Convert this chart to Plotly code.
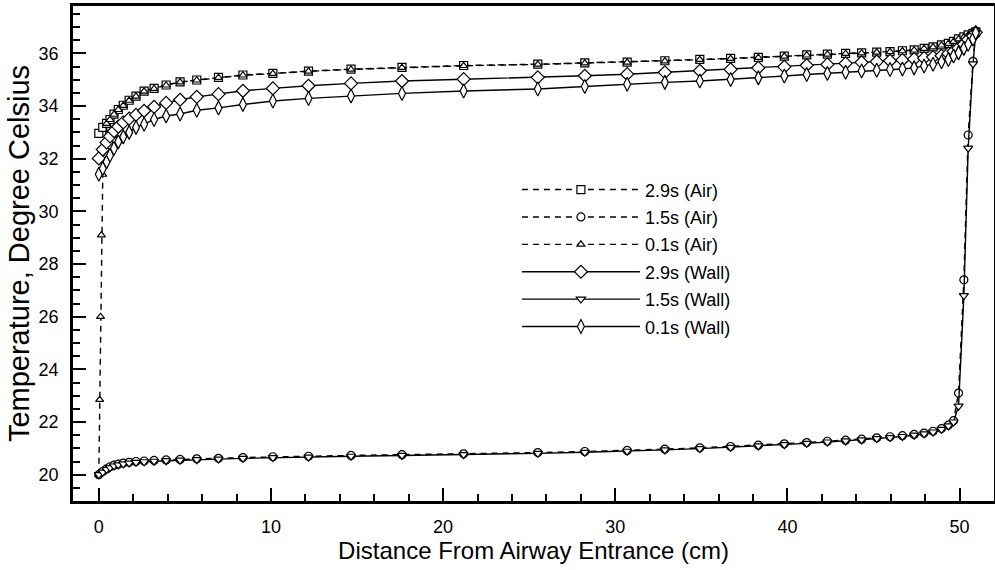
import plotly.graph_objects as go

# Shared axial grid (cm from airway entrance)
x_grid = [0.0, 0.23, 0.45, 0.65, 0.88, 1.13, 1.42, 1.76, 2.16, 2.63, 3.21, 3.91, 4.72, 5.69, 6.95, 8.37,
          10.11, 12.18, 14.65, 17.61, 21.19, 25.5, 28.23, 30.69, 32.88, 34.91, 36.7, 38.31, 39.82, 41.12,
          42.32, 43.38, 44.31,
          45.19, 45.96, 46.68, 47.36, 47.94, 48.46, 48.95,
          49.35, 49.65, 49.94, 50.25, 50.5, 50.78, 50.94]

air_29 = [32.96, 33.19, 33.34, 33.49, 33.69, 33.87, 34.03, 34.22, 34.38, 34.57, 34.67, 34.80, 34.92, 34.99, 35.09, 35.18,
          35.24, 35.33, 35.40, 35.47, 35.54, 35.59, 35.64, 35.67, 35.72, 35.77, 35.81, 35.85, 35.90, 35.94,
          35.97, 36.00, 36.02,
          36.05, 36.07, 36.10, 36.13, 36.19, 36.25, 36.32,
          36.38, 36.46, 36.55, 36.63, 36.70, 36.76, 36.82]

air_15 = [20.0, 20.12, 20.22, 20.3, 20.36, 20.4, 20.44, 20.47, 20.5, 20.52, 20.54, 20.56, 20.58, 20.6, 20.62, 20.65,
          20.68, 20.7, 20.73, 20.76, 20.79, 20.84, 20.88, 20.92, 20.97, 21.02, 21.07, 21.12, 21.17, 21.22,
          21.27, 21.31, 21.35,
          21.4, 21.44, 21.48, 21.53, 21.58, 21.65, 21.75,
          21.88, 22.05, 23.1, 27.4, 32.9, 35.7, 36.8]

x_air_01 = [0.0, 0.05, 0.1, 0.15, 0.23, 0.45, 0.65, 0.88, 1.13, 1.42, 1.76, 2.16, 2.63, 3.21, 3.91, 4.72, 5.69, 6.95, 8.37,
            10.11, 12.18, 14.65, 17.61, 21.19, 25.5, 28.23, 30.69, 32.88, 34.91, 36.7, 38.31, 39.82, 41.12,
            42.32, 43.38, 44.31,
            45.19, 45.96, 46.68, 47.36, 47.94, 48.46, 48.95,
            49.35, 49.65, 49.94, 50.25, 50.5, 50.78, 50.94]
air_01 = [20.0, 22.85, 26.0, 29.1, 31.4, 33.33, 33.48, 33.68, 33.86, 34.02, 34.21, 34.37, 34.56, 34.66, 34.79, 34.91, 34.98, 35.08, 35.17,
          35.23, 35.32, 35.39, 35.46, 35.53, 35.58, 35.63, 35.66, 35.71, 35.76, 35.80, 35.84, 35.89, 35.93,
          35.96, 35.99, 36.01,
          36.04, 36.06, 36.09, 36.12, 36.18, 36.24, 36.31,
          36.37, 36.45, 36.54, 36.62, 36.69, 36.75, 36.81]

wall_29 = [32.01, 32.35, 32.62, 32.85, 33.05, 33.22, 33.38, 33.52, 33.67, 33.82, 33.97, 34.12, 34.24, 34.35, 34.45, 34.58,
           34.67, 34.77, 34.86, 34.95, 35.02, 35.09, 35.15, 35.21, 35.28, 35.34, 35.39, 35.45, 35.49, 35.55,
           35.58, 35.62, 35.66,
           35.69, 35.72, 35.75, 35.78, 35.82, 35.86, 35.91,
           35.99, 36.08, 36.20, 36.35, 36.52, 36.66, 36.80]

wall_15 = [20.0, 20.1, 20.2, 20.27, 20.33, 20.37, 20.41, 20.44, 20.47, 20.49, 20.51, 20.53, 20.55, 20.57, 20.59, 20.62,
           20.65, 20.67, 20.7, 20.73, 20.76, 20.81, 20.85, 20.89, 20.94, 20.99, 21.04, 21.09, 21.14, 21.19,
           21.24, 21.28, 21.32,
           21.37, 21.41, 21.45, 21.5, 21.55, 21.62, 21.72,
           21.85, 22.0, 22.6, 26.8, 32.4, 35.6, 36.8]

wall_01 = [31.41, 31.63, 31.88, 32.13, 32.39, 32.64, 32.83, 33.0, 33.19, 33.31, 33.49, 33.62, 33.70, 33.84, 33.93, 34.06,
           34.19, 34.29, 34.38, 34.48, 34.57, 34.65, 34.74, 34.83, 34.90, 34.95, 35.01, 35.07, 35.14, 35.20,
           35.24, 35.28, 35.33,
           35.36, 35.39, 35.41, 35.45, 35.52, 35.59, 35.68,
           35.77, 35.90, 36.02, 36.19, 36.35, 36.55, 36.78]

names = ["2.9s (Air)", "1.5s (Air)", "0.1s (Air)", "2.9s (Wall)", "1.5s (Wall)", "0.1s (Wall)"]

series = [
    (x_grid, air_29, "dash", "square", 8),
    (x_grid, air_15, "dash", "circle", 8),
    (x_air_01, air_01, "dash", "triangle-up", 7),
    (x_grid, wall_29, "solid", "diamond", 10),
    (x_grid, wall_15, "solid", "triangle-down", 8),
    (x_grid, wall_01, "solid", "diamond-tall", 10),
]

FONT = "Liberation Sans, Arial, Helvetica, sans-serif"

fig = go.Figure()
for i, (name, (xs, ys, dash, sym, sz)) in enumerate(zip(names, series)):
    fig.add_trace(go.Scatter(
        x=xs, y=ys, name=name, mode="lines+markers", legendgroup=f"g{i}",
        line=dict(color="black", width=1.4, dash="6px,5px" if dash == "dash" else "solid"),
        marker=dict(symbol=sym, size=sz, color="white", line=dict(color="black", width=1.2)),
    ))

fig.update_layout(
    width=995, height=570,
    margin=dict(l=73, r=1, t=6, b=69, autoexpand=False),
    paper_bgcolor="white", plot_bgcolor="white",
    font=dict(family=FONT, color="black", size=18),
    showlegend=True,
    legend=dict(x=0.482, y=0.666, xanchor="left", yanchor="top",
                bgcolor="rgba(0,0,0,0)", font=dict(size=18, family=FONT),
                itemwidth=118, tracegroupgap=1),
)

fig.update_xaxes(
    range=[-1.5, 52.0], showgrid=False, zeroline=False, automargin=False,
    showline=True, linecolor="black", linewidth=2.5, mirror=True,
    ticks="inside", ticklen=13, tickwidth=2, tickcolor="black", dtick=10, tick0=0,
    minor=dict(ticks="inside", ticklen=7, tickwidth=1.5, tickcolor="black", dtick=2),
    tickfont=dict(size=18, family=FONT), ticklabelstandoff=8,
    title=dict(text="Distance From Airway Entrance (cm)", font=dict(size=24, family=FONT), standoff=6),
)
fig.update_yaxes(
    range=[19.0, 37.8], showgrid=False, zeroline=False, automargin=False,
    showline=True, linecolor="black", linewidth=2.5, mirror=True,
    ticks="inside", ticklen=13, tickwidth=2, tickcolor="black", dtick=2, tick0=20,
    minor=dict(ticks="inside", ticklen=7, tickwidth=1.5, tickcolor="black", dtick=0.5),
    tickfont=dict(size=18, family=FONT), ticklabelstandoff=8,
    title=dict(text="Temperature, Degree Celsius", font=dict(size=29, family=FONT), standoff=1),
)

fig.write_html("out.html", config={"displayModeBar": False},
               post_script="document.body.style.margin='0';document.body.style.overflow='hidden';")
